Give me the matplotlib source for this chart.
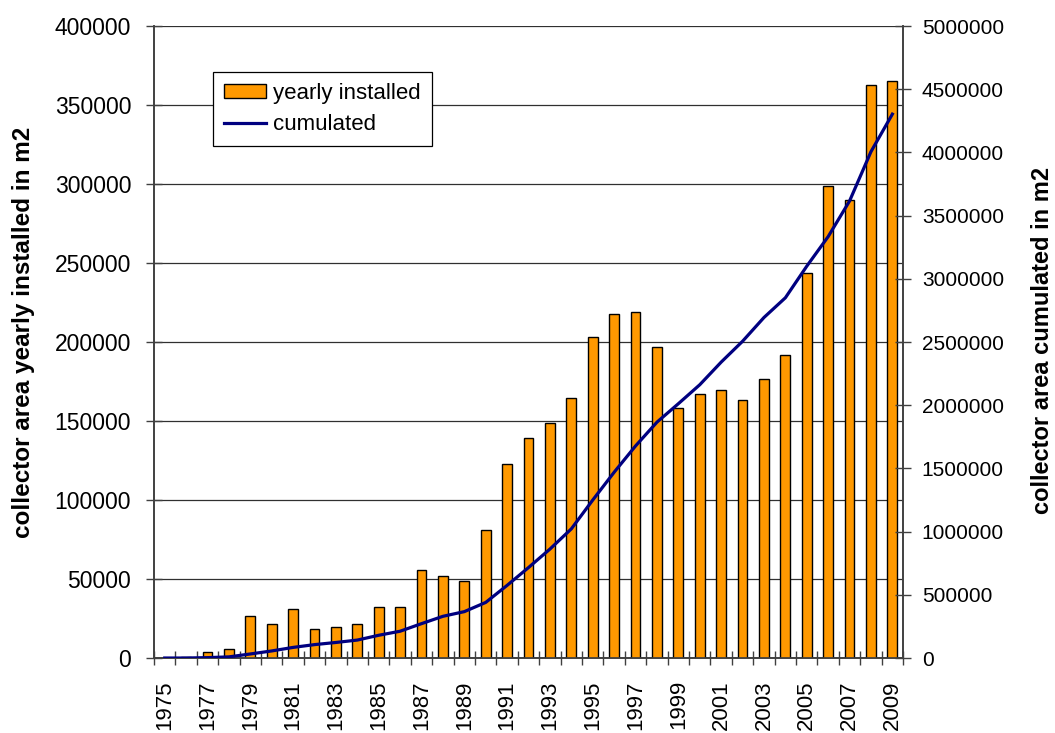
import matplotlib
matplotlib.use("Agg")
import matplotlib.pyplot as plt
from matplotlib.patches import Patch
from matplotlib.lines import Line2D

plt.rcParams["font.family"] = ["Liberation Sans", "DejaVu Sans"]

# ─── Data ─────────────────────────────────────────────────────────────────────
years = list(range(1975, 2010))

yearly_installed = [
    0, 700, 3500, 5500, 26400, 21700, 31200, 18400, 19600, 21700,
    32300, 32300, 55500, 51900, 48500, 81000, 123000, 139000, 148500, 164500,
    203000, 218000, 219000, 197000, 158000, 167000, 169500, 163500, 176500, 191500,
    243500, 299000, 290000, 362500, 365000,
]

cumulated = [
    0, 0, 3000, 9000, 32000, 56000, 84000, 106000, 123000, 142000,
    180000, 212000, 272000, 330000, 367000, 440000, 575000, 716000, 862000, 1022000,
    1250000, 1470000, 1678000, 1866000, 2012000, 2162000, 2341000, 2506000, 2694000, 2850000,
    3100000, 3334000, 3616000, 4006000, 4303000,
]

left_ticks = [0, 50000, 100000, 150000, 200000, 250000, 300000, 350000, 400000]
right_ticks = [0, 500000, 1000000, 1500000, 2000000, 2500000,
               3000000, 3500000, 4000000, 4500000, 5000000]

# ─── Style ────────────────────────────────────────────────────────────────────
BAR_COLOR = "#FF9900"
LINE_COLOR = "#000080"
AXIS_COLOR = "#404040"
LEFT_FS = 16.5
RIGHT_FS = 15
XTICK_FS = 16
LABEL_FS = 17.5
LEGEND_FS = 16

fig = plt.figure(figsize=(10.55, 7.33), dpi=100)
ax = fig.add_axes([0.146, 0.1023, 0.710, 0.8622])
ax2 = ax.twinx()

x = list(range(len(years)))

ax.bar(x, yearly_installed, width=0.46, color=BAR_COLOR,
       edgecolor="black", linewidth=1.0, zorder=3)
ax2.plot(x, cumulated, color=LINE_COLOR, linewidth=2.3, zorder=4)

# left axis
ax.set_xlim(-0.5, len(years) - 0.5)
ax.set_ylim(0, 400000)
ax.set_yticks(left_ticks)
ax.set_yticklabels([str(v) for v in left_ticks], fontsize=LEFT_FS)
ax.yaxis.grid(True, color="#303030", linewidth=0.9, zorder=0)
ax.set_axisbelow(True)

# x axis: labels at every other category, tick marks on boundaries
ax.set_xticks(x[::2])
ax.set_xticklabels([str(y) for y in years[::2]], rotation=90, fontsize=XTICK_FS)
ax.tick_params(axis="x", which="major", length=0, pad=16)
ax.set_xticks([i - 0.5 for i in range(len(years) + 1)], minor=True)
ax.tick_params(axis="x", which="minor", length=10, direction="inout",
               color=AXIS_COLOR, width=1.0)
ax.tick_params(axis="y", length=11, direction="inout", color=AXIS_COLOR,
               width=1.0, pad=11)

# right axis
ax2.set_ylim(0, 5000000)
ax2.set_yticks(right_ticks)
ax2.set_yticklabels([str(v) for v in right_ticks], fontsize=RIGHT_FS)
ax2.tick_params(axis="y", length=11, direction="inout", color=AXIS_COLOR,
                width=1.0, pad=8)

for a in (ax, ax2):
    a.spines["top"].set_visible(False)
    for side in ("left", "right", "bottom"):
        a.spines[side].set_color(AXIS_COLOR)
        a.spines[side].set_linewidth(1.2)

fig.text(0.022, 0.547, "collector area yearly installed in m2", rotation=90,
         ha="center", va="center", fontsize=LABEL_FS, fontweight="bold")
fig.text(0.988, 0.536, "collector area cumulated in m2", rotation=90,
         ha="center", va="center", fontsize=17, fontweight="bold")

handles = [
    Patch(facecolor=BAR_COLOR, edgecolor="black", linewidth=1.0),
    Line2D([0], [0], color=LINE_COLOR, linewidth=2.3),
]
leg = ax2.legend(handles, ["yearly installed", "cumulated"],
                 loc="upper left", bbox_to_anchor=(213 / 1055, 1 - 72 / 733),
                 bbox_transform=fig.transFigure, borderaxespad=0,
                 fontsize=LEGEND_FS, frameon=True, fancybox=False,
                 edgecolor="black", framealpha=1.0, handlelength=1.9,
                 handleheight=0.6, handletextpad=0.3, borderpad=0.5,
                 labelspacing=0.45)
leg.get_frame().set_linewidth(0.9)
leg.set_zorder(10)

fig.savefig("out.png", dpi=100)
